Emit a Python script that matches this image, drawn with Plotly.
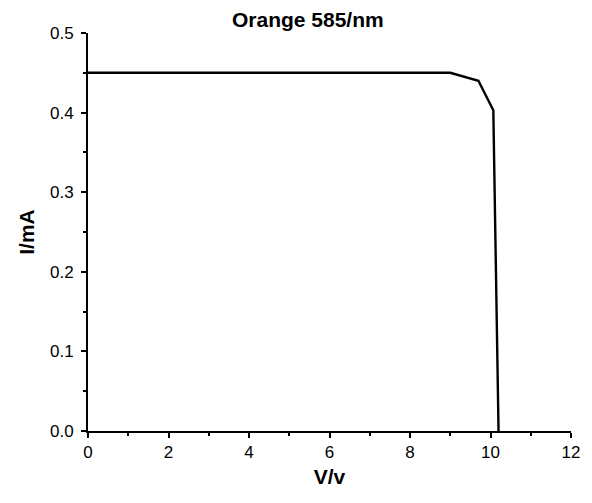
import plotly.graph_objects as go

# I-V curve under orange illumination (585 nm)
voltage_v = [0.0, 9.0, 9.7, 10.07, 10.2]
current_ma = [0.45, 0.45, 0.44, 0.403, 0.0]

title_text = "Orange 585/nm"
x_label = "V/v"
y_label = "I/mA"

font_family = "Liberation Sans, Arial, sans-serif"

fig = go.Figure()
fig.add_trace(go.Scatter(
    x=voltage_v, y=current_ma, mode="lines",
    line=dict(color="black", width=2.4),
    showlegend=False,
))

axis_common = dict(
    showgrid=False, zeroline=False, showline=True,
    linecolor="black", linewidth=2,
    ticks="outside", tickwidth=2, ticklen=5, tickcolor="black",
    tickfont=dict(family=font_family, size=17, color="black"),
    mirror=False,
)

fig.update_xaxes(
    range=[0, 12], tick0=0, dtick=2,
    minor=dict(ticks="outside", dtick=1, ticklen=3, tickwidth=2, tickcolor="black"),
    title=dict(text=f"<b>{x_label}</b>", font=dict(family=font_family, size=21, color="black"), standoff=8),
    **axis_common,
)
fig.update_yaxes(
    range=[0, 0.5], tick0=0, dtick=0.1, tickformat=".1f",
    ticklabelstandoff=4,
    minor=dict(ticks="outside", dtick=0.05, ticklen=3, tickwidth=2, tickcolor="black"),
    title=dict(text=f"<b>{y_label}</b>", font=dict(family=font_family, size=21, color="black"), standoff=10),
    **axis_common,
)

fig.update_layout(
    width=592, height=503,
    margin=dict(l=88, r=15, t=33, b=72),
    plot_bgcolor="white", paper_bgcolor="white",
    title=dict(text=f"<b>{title_text}</b>", x=0.52, xanchor="center", y=0.96, yanchor="middle",
               font=dict(family=font_family, size=21, color="black")),
)

fig.write_html("out.html")
